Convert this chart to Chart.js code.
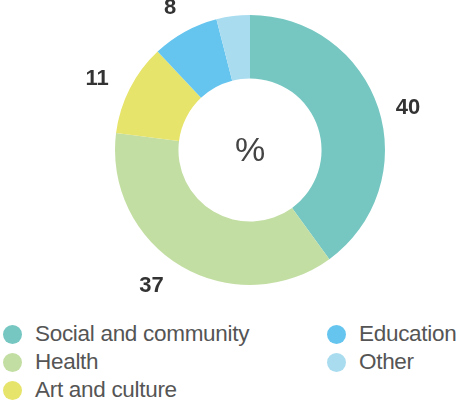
<!DOCTYPE html>
<html>
<head>
<meta charset="utf-8">
<script src="https://cdn.jsdelivr.net/npm/chart.js@4/dist/chart.umd.min.js"></script>
<style>
  html, body { margin: 0; padding: 0; background: #fff; }
  body { width: 458px; height: 402px; position: relative; overflow: hidden; font-family: "Liberation Sans", Arial, sans-serif; }
  #wrap { position: absolute; left: 0; top: 0; width: 458px; height: 310px; }
  .legend { position: absolute; font-size: 22.5px; letter-spacing: -0.3px; color: #555; line-height: 28px; }
  .legend div { position: relative; padding-left: 35px; white-space: nowrap; }
  .legend span { position: absolute; left: 3px; top: 5px; width: 19px; height: 19px; border-radius: 50%; }
</style>
</head>
<body>
<div id="wrap"><canvas id="chart"></canvas></div>
<div class="legend" id="legA" style="left:0; top:320px;"></div>
<div class="legend" id="legB" style="left:324px; top:320px;"></div>
<script>
// sector shares, %
const categories = ['Social and community', 'Health', 'Art and culture', 'Education', 'Other'];
const values = [40, 37, 11, 8, 4];
const colors = ['#76c7c2', '#c3dea3', '#e6e46a', '#66c5ef', '#a9dcef'];
const labelled = [true, true, true, true, false];
const centerText = '%';

// labels outside the ring + the % in the hole
const outerLabels = {
  id: 'outerLabels',
  afterDatasetsDraw(chart, args, opts) {
    const ctx = chart.ctx;
    const arcs = chart.getDatasetMeta(0).data;
    ctx.save();
    ctx.textAlign = 'center';
    ctx.textBaseline = 'middle';
    ctx.fillStyle = '#333';
    ctx.font = 'bold 22px "Liberation Sans", Arial, sans-serif';
    arcs.forEach((arc, i) => {
      if (!labelled[i]) return;
      const p = arc.getProps(['x', 'y', 'startAngle', 'endAngle', 'outerRadius'], true);
      const mid = (p.startAngle + p.endAngle) / 2;
      const r = p.outerRadius + opts.gap;
      const n = opts.nudge[i] || [0, 0];
      ctx.fillText(values[i], p.x + Math.cos(mid) * r + n[0], p.y + Math.sin(mid) * r + n[1]);
    });
    const c = arcs[0];
    ctx.fillStyle = '#444';
    ctx.font = '34px "Liberation Sans", Arial, sans-serif';
    ctx.fillText(centerText, c.x, c.y + 2);
    ctx.restore();
  }
};

new Chart(document.getElementById('chart'), {
  type: 'doughnut',
  data: {
    labels: categories,
    datasets: [{
      data: values,
      backgroundColor: colors,
      borderWidth: 0
    }]
  },
  options: {
    responsive: true,
    maintainAspectRatio: false,
    animation: false,
    cutout: '53%',
    layout: { padding: { left: 115, right: 73, top: 15, bottom: 25 } },
    plugins: {
      legend: { display: false },
      tooltip: { enabled: false },
      outerLabels: { gap: 31, nudge: [[0, 9], [-14, -7], [-5, 4], [0, 3]] }
    }
  },
  plugins: [outerLabels]
});

// html legend, two columns
const colA = document.getElementById('legA');
const colB = document.getElementById('legB');
categories.forEach((name, i) => {
  const row = document.createElement('div');
  row.innerHTML = '<span style="background:' + colors[i] + '"></span>' + name;
  (i < 3 ? colA : colB).appendChild(row);
});
</script>
</body>
</html>
